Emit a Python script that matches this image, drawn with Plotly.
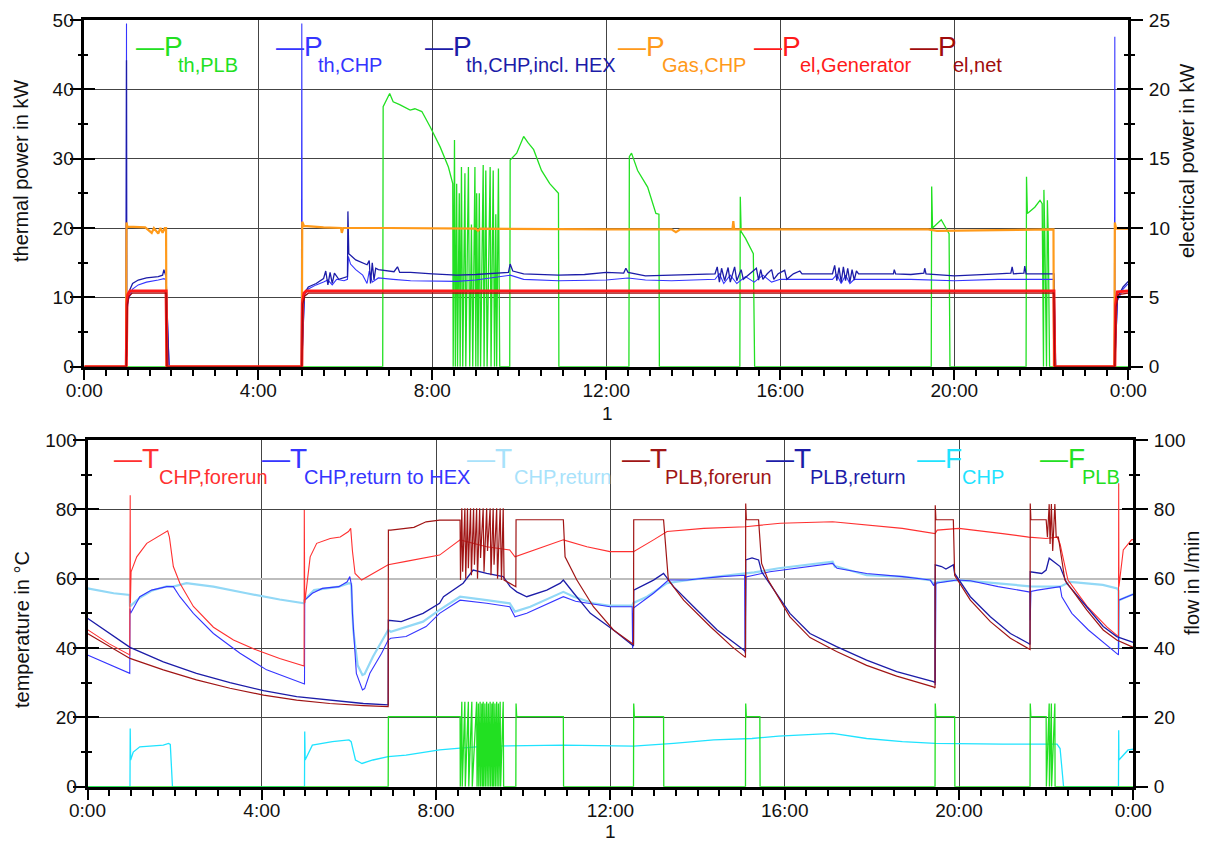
import plotly.graph_objects as go

# ---------------- axis ticks ----------------
HOUR_TICKS = [0, 4, 8, 12, 16, 20, 24]
HOUR_LABELS = ["0:00", "4:00", "8:00", "12:00", "16:00", "20:00", "0:00"]

# ---------------- top panel: power (hours, kW) ----------------
PTH_PLB = [(0, 0), (6.86, 0), (6.87, 37.5), (6.95, 38.5), (7.02, 39.4), (7.1, 38.2), (7.25, 37.8),
           (7.49, 37.0), (7.6, 37.2), (7.76, 36.8), (7.95, 34.6), (8.18, 31.7), (8.37, 28.8), (8.47, 26.4),
           (8.48, 0), (8.51, 32.7), (8.53, 0), (8.56, 26.4), (8.58, 0), (8.62, 25.0), (8.64, 0), (8.67, 28.8),
           (8.70, 0), (8.75, 27.9), (8.77, 0), (8.83, 28.8), (8.86, 0), (8.90, 20.5), (8.93, 0), (8.98, 28.8),
           (9.00, 0), (9.02, 25.0), (9.05, 0), (9.08, 25.0), (9.11, 0), (9.17, 29.1), (9.19, 0), (9.23, 28.3),
           (9.26, 0), (9.33, 28.8), (9.35, 0), (9.40, 28.3), (9.43, 0), (9.46, 22.0), (9.48, 0), (9.52, 28.6),
           (9.55, 0), (9.78, 0), (9.79, 29.8), (9.94, 30.8), (10.02, 32.0), (10.1, 33.2), (10.2, 32.3),
           (10.33, 31.3), (10.51, 28.3), (10.7, 26.4), (10.9, 25.0), (10.91, 0), (12.52, 0), (12.53, 30.3),
           (12.58, 30.8), (12.72, 28.3), (12.95, 25.9), (13.14, 22.1), (13.21, 22.0), (13.22, 0), (15.07, 0),
           (15.08, 24.5), (15.10, 19.5), (15.2, 18.5), (15.38, 16.3), (15.41, 0), (19.47, 0), (19.48, 26.0),
           (19.5, 20.0), (19.7, 21.2), (19.88, 19.2), (19.9, 0), (21.65, 0), (21.66, 27.4), (21.68, 22.1),
           (21.85, 23.0), (21.97, 24.0), (22.02, 23.5), (22.05, 0), (22.06, 25.5), (22.08, 19.0), (22.12, 0),
           (22.14, 24.0), (22.16, 19.0), (22.19, 0), (24, 0)]

PTH_CHP = [(0, 0), (0.96, 0), (0.97, 49.5), (0.975, 1.0), (0.99, 8.5), (1.02, 9.8), (1.11, 11.2),
           (1.24, 11.8), (1.43, 12.2), (1.70, 12.5), (1.83, 12.7), (1.88, 12.5), (1.92, 4.0), (1.95, 0),
           (4.99, 0), (5.0, 49.5), (5.01, 2.0), (5.06, 10.3), (5.15, 11.2), (5.33, 11.8), (5.5, 12.2),
           (5.6, 12.5), (5.7, 11.8), (5.8, 12.6), (5.97, 12.4), (6.05, 12.6), (6.07, 15.9), (6.12, 14.8),
           (6.24, 14.0), (6.4, 13.2), (6.5, 12.0), (6.55, 13.8), (6.62, 12.2), (6.76, 12.8), (7.1, 12.6),
           (7.5, 12.4), (8.56, 12.3), (9.0, 12.5), (9.79, 13.2), (10.1, 12.6), (10.9, 12.4), (11.5, 12.4),
           (12.0, 12.5), (12.5, 12.8), (12.9, 12.5), (13.5, 12.4), (14.5, 12.6), (14.6, 13.4), (14.7, 12.0),
           (14.85, 13.2), (15.0, 12.0), (15.2, 13.0), (15.4, 12.2), (15.6, 13.2), (15.8, 12.2), (16.0, 12.6),
           (17.2, 12.6), (17.3, 13.3), (17.4, 12.0), (17.5, 13.2), (17.6, 12.0), (17.7, 12.6), (19.0, 12.6),
           (20.0, 12.4), (21.0, 12.6), (22.29, 12.6), (22.33, 0), (23.68, 0), (23.69, 47.6), (23.695, 1.0),
           (23.75, 9.5), (23.88, 11.2), (23.97, 11.8), (24, 11.9)]

PTH_CHP_HEX = [(0, 0), (0.96, 0), (0.97, 44.2), (0.975, 1.5), (0.99, 9.6), (1.04, 11.0), (1.11, 12.0),
               (1.24, 12.5), (1.43, 12.8), (1.70, 13.0), (1.80, 13.2), (1.83, 14.0), (1.86, 13.1), (1.88, 13.0),
               (1.92, 5.0), (1.95, 0), (5.0, 0), (5.02, 3.0), (5.06, 10.6), (5.15, 11.5), (5.33, 12.0),
               (5.5, 12.7), (5.55, 13.8), (5.6, 11.8), (5.65, 13.6), (5.7, 12.0), (5.75, 13.5), (5.85, 12.6),
               (5.97, 12.8), (6.05, 13.0), (6.06, 22.4), (6.08, 16.3), (6.24, 15.4), (6.4, 14.9), (6.5, 14.7),
               (6.55, 15.3), (6.58, 12.0), (6.62, 15.0), (6.66, 12.5), (6.7, 14.2), (6.76, 14.0), (7.12, 13.7),
               (7.2, 14.4), (7.25, 13.6), (7.5, 13.6), (8.0, 13.4), (8.56, 13.2), (9.0, 13.3), (9.75, 13.6),
               (9.79, 14.8), (9.85, 13.8), (10.1, 13.4), (10.9, 13.2), (11.5, 13.3), (12.0, 13.6), (12.4, 13.5),
               (12.45, 14.2), (12.5, 13.6), (12.9, 13.1), (13.5, 13.2), (14.0, 13.3), (14.5, 13.4), (14.55, 14.4),
               (14.6, 12.2), (14.65, 14.2), (14.72, 12.4), (14.8, 14.3), (14.85, 12.2), (14.95, 14.4), (15.0, 12.4),
               (15.1, 14.0), (15.15, 12.6), (15.3, 13.4), (15.45, 14.2), (15.5, 12.5), (15.55, 14.0), (15.6, 12.6),
               (15.7, 13.4), (15.8, 14.0), (15.85, 12.6), (15.95, 13.4), (16.1, 13.9), (16.15, 12.6), (16.3, 13.4),
               (16.45, 13.8), (16.5, 13.4), (17.2, 13.4), (17.25, 14.6), (17.3, 12.4), (17.35, 14.3), (17.4, 12.2),
               (17.45, 14.4), (17.5, 12.4), (17.55, 14.2), (17.6, 12.2), (17.65, 14.0), (17.7, 12.5), (17.75, 13.8),
               (17.8, 13.4), (18.6, 13.4), (18.62, 14.0), (18.65, 13.4), (19.0, 13.3), (19.3, 13.5), (19.32, 14.2),
               (19.35, 13.4), (20.0, 13.1), (20.5, 13.3), (21.0, 13.4), (21.3, 13.5), (21.33, 14.4), (21.36, 13.4),
               (21.6, 13.5), (21.62, 14.5), (21.65, 13.4), (22.29, 13.4), (22.33, 0), (23.69, 0), (23.75, 10.0),
               (23.88, 11.5), (23.97, 12.2), (24, 12.3)]

PGAS_CHP = [(0, 0), (0.96, 0), (0.97, 20.8), (0.99, 20.2), (1.4, 20.1), (1.55, 19.3), (1.6, 20.0), (1.7, 19.2),
            (1.75, 20.0), (1.8, 19.3), (1.85, 20.0), (1.88, 20.0), (1.89, 0), (5.0, 0), (5.01, 20.9), (5.05, 20.3),
            (5.5, 20.1), (5.9, 20.0), (5.92, 19.3), (5.95, 20.0), (7.0, 20.0), (9.0, 19.9), (9.05, 19.6),
            (9.1, 19.9), (12.0, 19.8), (13.5, 19.8), (13.6, 19.4), (13.7, 19.8), (14.9, 19.8), (14.92, 21.0),
            (14.94, 19.8), (19.4, 19.8), (19.6, 19.6), (22.28, 19.8), (22.29, 0), (23.68, 0), (23.69, 20.8),
            (23.72, 19.9), (24, 19.9)]

# electrical power, right axis (kW)
PEL_GEN = [(0, 0), (0.965, 0), (0.98, 4.5), (1.0, 5.2), (1.05, 5.45), (1.88, 5.45), (1.90, 0), (5.0, 0),
           (5.015, 4.6), (5.05, 5.3), (5.1, 5.45), (22.29, 5.45), (22.31, 0), (23.69, 0), (23.71, 4.5),
           (23.75, 5.4), (24, 5.45)]
PEL_NET = [(0, 0), (0.965, 0), (0.99, 4.5), (1.03, 5.1), (1.1, 5.3), (1.88, 5.3), (1.9, 0), (5.0, 0),
           (5.02, 4.5), (5.07, 5.1), (5.15, 5.3), (22.29, 5.3), (22.31, 0), (23.69, 0), (23.72, 4.3),
           (23.77, 5.2), (24, 5.3)]

# ---------------- bottom panel: temperatures (hours, degC) ----------------
T_CHP_FORERUN = [(0, 45.3), (0.5, 41.2), (0.97, 38.0), (0.98, 84.1), (0.985, 53.0), (1.0, 62.0), (1.13, 66.3),
                 (1.36, 70.2), (1.67, 72.5), (1.84, 73.8), (1.88, 72.0), (1.97, 63.5), (2.12, 58.7), (2.43, 52.0),
                 (2.89, 46.0), (3.35, 42.3), (3.88, 39.4), (4.41, 37.0), (4.97, 34.8), (4.975, 79.8), (4.985, 53.0),
                 (5.11, 66.3), (5.26, 70.2), (5.57, 71.6), (5.8, 72.0), (5.99, 73.6), (6.04, 74.5), (6.08, 68.0),
                 (6.14, 61.5), (6.29, 59.6), (6.48, 61.0), (6.71, 62.5), (6.9, 64.0), (7.31, 65.0), (8.08, 66.8),
                 (8.55, 71.2), (9.16, 69.2), (9.69, 68.3), (9.81, 66.3), (10.92, 71.2), (11.46, 69.2),
                 (11.99, 67.8), (12.53, 67.8), (12.99, 71.2), (13.3, 73.6), (14.14, 74.5), (15.1, 75.0),
                 (15.9, 76.0), (17.1, 76.4), (18.7, 74.5), (19.45, 73.0), (19.5, 74.0), (20.0, 74.5), (21.0, 73.0),
                 (21.6, 72.0), (22.0, 71.6), (22.25, 72.0), (22.32, 70.0), (22.5, 59.6), (22.94, 52.0),
                 (23.4, 46.0), (23.66, 43.3), (23.665, 87.5), (23.67, 57.7), (23.77, 68.3), (23.96, 71.2),
                 (24, 71.3)]

T_CHP_RETURN_HEX = [(0, 38.0), (0.5, 35.2), (0.97, 32.7), (0.975, 51.4), (0.99, 50.0), (1.2, 54.8), (1.47, 56.7),
                    (1.82, 57.7), (1.97, 57.7), (2.12, 54.8), (2.43, 50.0), (2.89, 44.2), (3.5, 38.5), (4.11, 33.7),
                    (4.72, 30.8), (4.98, 29.6), (4.985, 53.8), (5.16, 55.8), (5.39, 57.2), (5.77, 57.7),
                    (5.96, 59.1), (6.02, 60.6), (6.06, 58.0), (6.08, 50.0), (6.12, 42.3), (6.17, 32.7),
                    (6.31, 27.9), (6.36, 28.3), (6.48, 32.7), (6.75, 38.5), (6.9, 42.3), (6.96, 42.8), (7.31, 43.3),
                    (7.77, 46.2), (8.08, 50.0), (8.55, 53.8), (9.16, 52.9), (9.69, 51.9), (9.81, 49.0),
                    (10.08, 50.0), (10.92, 54.8), (11.2, 53.5), (11.99, 51.9), (12.5, 51.9), (12.51, 39.9),
                    (12.53, 51.5), (12.99, 55.8), (13.33, 59.6), (13.76, 59.6), (14.53, 60.6), (15.08, 61.0),
                    (15.09, 38.5), (15.11, 60.5), (15.66, 62.0), (17.1, 64.4), (17.2, 63.0), (17.88, 61.5),
                    (18.7, 60.6), (19.34, 59.6), (19.42, 58.0), (19.45, 59.0), (19.455, 29.3), (19.47, 58.7),
                    (19.95, 59.6), (20.26, 59.4), (20.9, 57.7), (21.6, 56.2), (21.63, 56.2), (21.635, 48.0),
                    (21.65, 56.3), (21.8, 56.7), (22.32, 57.7), (22.36, 54.8), (22.59, 50.0), (22.97, 45.2),
                    (23.43, 40.4), (23.66, 38.0), (23.665, 53.8), (23.95, 55.3), (24, 55.5)]

T_CHP_RETURN = [(0, 57.2), (0.6, 55.8), (0.97, 55.3), (0.975, 52.0), (1.2, 54.5), (1.47, 56.5), (1.82, 57.8),
                (1.97, 57.7), (2.27, 58.7), (2.89, 57.7), (3.65, 55.8), (4.41, 54.0), (4.97, 52.9), (4.975, 53.8),
                (5.2, 56.7), (5.77, 57.7), (6.0, 58.7), (6.05, 58.5), (6.1, 45.0), (6.2, 35.0), (6.31, 32.2),
                (6.36, 32.5), (6.55, 37.5), (6.86, 44.2), (6.9, 45.2), (6.96, 44.7), (7.7, 47.6), (8.08, 51.0),
                (8.55, 54.8), (9.16, 53.8), (9.69, 52.9), (9.81, 50.5), (10.16, 51.9), (10.92, 56.2),
                (11.16, 54.8), (11.61, 52.9), (11.99, 52.2), (12.5, 52.2), (12.53, 53.0), (12.84, 54.8),
                (13.3, 58.7), (13.76, 59.6), (14.53, 60.6), (15.1, 61.5), (15.3, 61.8), (15.86, 63.0),
                (17.1, 64.9), (17.15, 63.5), (17.2, 63.5), (17.88, 61.0), (18.7, 60.6), (19.34, 59.6),
                (19.45, 58.2), (19.5, 59.0), (19.95, 59.6), (20.5, 59.1), (21.63, 57.8), (22.32, 57.7),
                (22.55, 59.1), (23.3, 58.2), (23.63, 57.2), (23.66, 56.5), (23.665, 40.0), (23.67, 53.8),
                (23.95, 55.3), (24, 55.5)]

T_PLB_FORERUN = [(0, 44.2), (0.975, 37.0), (1.74, 33.7), (2.5, 30.8), (3.27, 28.4), (4.04, 26.4), (4.8, 25.0),
                 (5.56, 24.0), (6.33, 23.4), (6.9, 23.1), (6.905, 74.0), (6.96, 74.0), (7.49, 74.8), (7.77, 76.4),
                 (8.08, 76.9), (8.55, 76.9), (8.56, 59.6), (8.59, 80.3), (8.61, 62.0), (8.66, 80.3), (8.68, 60.0),
                 (8.72, 80.3), (8.74, 63.0), (8.79, 80.3), (8.81, 61.0), (8.86, 80.3), (8.88, 64.0), (8.93, 80.3),
                 (8.95, 60.0), (9.00, 80.3), (9.02, 66.0), (9.08, 80.3), (9.10, 62.0), (9.16, 80.3), (9.18, 68.0),
                 (9.24, 80.3), (9.26, 61.0), (9.31, 80.3), (9.33, 64.0), (9.39, 80.3), (9.41, 60.0), (9.47, 80.3),
                 (9.50, 59.6), (9.54, 80.3), (9.56, 59.6), (9.7, 58.5), (9.81, 57.7), (9.83, 57.7), (9.835, 77.0),
                 (10.92, 77.0), (10.96, 66.3), (11.23, 59.6), (11.61, 51.9), (12.07, 45.2), (12.5, 41.3),
                 (12.53, 41.0), (12.535, 77.0), (13.22, 77.0), (13.33, 59.6), (13.68, 53.8), (14.29, 46.2),
                 (14.79, 40.4), (15.1, 37.3), (15.105, 81.7), (15.12, 77.0), (15.4, 77.0), (15.47, 64.4),
                 (15.62, 59.6), (16.12, 49.0), (16.58, 43.0), (17.19, 39.0), (17.88, 35.0), (18.57, 31.9),
                 (19.41, 28.8), (19.45, 28.5), (19.455, 81.2), (19.47, 77.0), (19.87, 77.0), (19.9, 61.0),
                 (20.26, 53.8), (20.72, 47.6), (21.18, 42.8), (21.6, 39.9), (21.63, 39.6), (21.635, 81.7),
                 (21.65, 77.0), (22.0, 77.0), (22.03, 72.0), (22.07, 81.5), (22.09, 70.0), (22.12, 81.5),
                 (22.15, 68.0), (22.2, 81.5), (22.23, 72.0), (22.28, 72.0), (22.43, 59.6), (22.93, 51.0),
                 (23.31, 45.2), (23.62, 42.3), (23.96, 40.4), (24, 40.2)]

T_PLB_RETURN = [(0, 48.6), (0.975, 40.2), (1.74, 36.0), (2.5, 32.7), (3.27, 30.0), (4.04, 27.7), (4.8, 26.0),
                (5.56, 25.0), (6.33, 24.0), (6.9, 23.6), (6.905, 48.0), (7.2, 47.6), (7.7, 50.0), (8.08, 52.9),
                (8.17, 54.8), (8.62, 58.7), (8.85, 62.5), (9.16, 61.5), (9.54, 60.6), (9.7, 57.7), (9.85, 56.2),
                (10.08, 54.8), (10.54, 56.7), (10.85, 58.7), (10.92, 59.6), (11.16, 55.8), (11.54, 50.0),
                (12.07, 45.2), (12.5, 40.9), (12.53, 40.6), (12.535, 56.7), (12.99, 59.6), (13.22, 61.5),
                (13.45, 57.7), (13.91, 51.9), (14.45, 45.2), (15.06, 39.4), (15.1, 39.0), (15.105, 65.4),
                (15.25, 66.0), (15.4, 65.4), (15.47, 62.0), (15.66, 58.5), (16.12, 50.0), (16.58, 44.2),
                (17.19, 40.4), (17.88, 36.5), (18.57, 33.2), (19.41, 30.3), (19.45, 30.0), (19.455, 64.0),
                (19.6, 63.5), (19.7, 62.8), (19.87, 64.0), (19.9, 61.5), (20.26, 54.8), (20.72, 49.0),
                (21.18, 44.2), (21.6, 41.3), (21.63, 41.0), (21.635, 62.0), (21.9, 61.5), (22.0, 62.5),
                (22.07, 65.9), (22.32, 63.5), (22.47, 58.7), (22.93, 51.9), (23.31, 46.2), (23.62, 43.3),
                (23.96, 41.8), (24, 41.6)]

# flows, right axis (l/min)
F_CHP = [(0, 0), (0.975, 0), (0.98, 16.8), (0.99, 7.7), (1.05, 10.0), (1.2, 11.5), (1.74, 12.0), (1.86, 12.5),
         (1.9, 12.2), (1.95, 0), (4.98, 0), (4.985, 15.9), (4.995, 7.7), (5.16, 12.0), (5.62, 13.0), (6.0, 13.5),
         (6.05, 13.0), (6.15, 7.7), (6.3, 6.7), (6.55, 7.7), (6.9, 8.7), (7.31, 9.1), (8.08, 10.6), (8.55, 11.1),
         (9.16, 11.7), (10.92, 12.0), (12.53, 11.7), (13.45, 12.5), (14.37, 13.5), (15.25, 13.9), (15.86, 14.6),
         (17.1, 15.4), (17.88, 13.9), (18.7, 13.0), (19.45, 12.5), (21.0, 12.3), (22.25, 12.3), (22.32, 11.0),
         (22.4, 0), (23.66, 0), (23.665, 16.3), (23.67, 7.7), (23.88, 10.6), (24, 10.8)]

F_PLB = [(0, 0), (6.9, 0), (6.905, 20.2), (8.55, 20.2), (8.555, 0), (8.59, 24.5), (8.6, 0), (8.66, 24.5), (8.67, 0),
         (8.74, 24.5), (8.75, 0), (8.82, 24.5), (8.83, 0), (8.93, 24.5), (8.94, 0), (8.97, 24.0), (8.98, 0),
         (9.01, 24.5), (9.02, 0), (9.05, 24.0), (9.06, 0), (9.08, 24.5), (9.09, 0), (9.12, 24.0), (9.13, 0),
         (9.16, 24.5), (9.17, 0), (9.2, 24.0), (9.21, 0), (9.24, 24.5), (9.25, 0), (9.28, 24.0), (9.29, 0),
         (9.31, 24.5), (9.32, 0), (9.35, 24.0), (9.36, 0), (9.39, 24.5), (9.4, 0), (9.43, 24.0), (9.44, 0),
         (9.47, 24.5), (9.48, 0), (9.54, 24.5), (9.55, 0), (9.83, 0), (9.835, 24.0), (9.85, 20.2), (10.92, 20.2),
         (10.925, 0), (12.53, 0), (12.535, 24.0), (12.55, 20.2), (13.22, 20.2), (13.225, 0), (15.1, 0),
         (15.105, 24.0), (15.12, 20.2), (15.43, 20.2), (15.435, 0), (19.45, 0), (19.455, 24.0), (19.47, 20.2),
         (19.9, 20.2), (19.905, 0), (21.63, 0), (21.635, 24.0), (21.65, 20.2), (22.0, 20.2), (22.005, 0),
         (22.07, 24.0), (22.075, 0), (22.12, 24.0), (22.125, 0), (22.2, 24.0), (22.205, 0), (24, 0)]

# ---------------- styling ----------------
FONT = "Liberation Sans, Arial, Helvetica, sans-serif"
GREEN = "#22e022"
BLUE = "#3535ff"
DBLUE = "#1c1ca8"
ORANGE = "#ff9a1a"
RED = "#ff1a1a"
DRED = "#a00c0c"
LBLUE = "#92d8f6"
CYAN = "#1fe3ff"
OFF = 8                 # page body margin of the html page
W, H = 1200, 836        # figure size so that figure + margin fill the 1208x844 window


def px(x):              # screenshot pixel -> paper fraction
    return (x - OFF) / W


def py(y):
    return 1 - (y - OFF) / H


TOP_XDOM = [px(84.3), px(1128.3)]
BOT_XDOM = [px(87.5), px(1133.3)]
TOP_YDOM = [py(366.7), py(20)]
BOT_YDOM = [py(786.7), py(440)]

fig = go.Figure()


def add(series, color, width, xa, ya):
    xs = [p[0] for p in series]
    ys = [p[1] for p in series]
    fig.add_trace(go.Scatter(x=xs, y=ys, mode="lines", line=dict(color=color, width=width),
                             xaxis=xa, yaxis=ya, showlegend=False, hoverinfo="skip"))


# top panel
add(PTH_PLB, GREEN, 1.3, "x", "y")
add(PTH_CHP, BLUE, 1.1, "x", "y")
add(PTH_CHP_HEX, DBLUE, 1.3, "x", "y")
add(PGAS_CHP, ORANGE, 2.2, "x", "y")
add(PEL_GEN, RED, 3.0, "x", "y2")
add(PEL_NET, DRED, 1.2, "x", "y2")
# bottom panel
add(T_CHP_RETURN, LBLUE, 2.2, "x2", "y5")
add(T_CHP_RETURN_HEX, BLUE, 1.1, "x2", "y5")
add(T_CHP_FORERUN, "#ff3030", 1.1, "x2", "y5")
add(T_PLB_RETURN, DBLUE, 1.3, "x2", "y5")
add(T_PLB_FORERUN, "#a01515", 1.2, "x2", "y5")
add(F_CHP, CYAN, 1.3, "x2", "y6")
add(F_PLB, GREEN, 1.3, "x2", "y6")

# empty traces so that overlay tick axes are drawn
for xa, ya in [("x", "y3"), ("x", "y4"), ("x2", "y7"), ("x2", "y8"), ("x2", "y9"), ("x2", "y10")]:
    fig.add_trace(go.Scatter(x=[None], y=[None], xaxis=xa, yaxis=ya, showlegend=False, hoverinfo="skip"))

tickfont = dict(family=FONT, size=19, color="#111111")
GRID = "#444444"


def xaxis(domain, anchor):
    return dict(domain=domain, anchor=anchor, range=[0, 24], tickmode="array", tickvals=HOUR_TICKS,
                ticktext=HOUR_LABELS, ticks="outside", ticklen=11, tickwidth=2, tickcolor="black",
                minor=dict(tickmode="linear", tick0=0, dtick=0.5, ticks="outside", ticklen=7, tickwidth=2,
                           tickcolor="black", showgrid=False),
                showgrid=True, gridcolor=GRID, gridwidth=1, showline=True, linewidth=2.5, linecolor="black",
                mirror=True, zeroline=False, tickfont=tickfont, automargin=False, ticklabelstandoff=-6)


def yaxis(domain, anchor, rng, dtick, mdtick, side="left", grid=True, overlay=None, line=True):
    d = dict(anchor=anchor, range=rng, tickmode="linear", tick0=0, dtick=dtick, side=side,
             ticks="outside", ticklen=12, tickwidth=2, tickcolor="black",
             minor=dict(tickmode="linear", tick0=0, dtick=mdtick, ticks="outside", ticklen=4, tickwidth=2,
                        tickcolor="black", showgrid=False),
             showgrid=grid, gridcolor=GRID, gridwidth=1, showline=line, linewidth=2.5, linecolor="black",
             zeroline=False, tickfont=tickfont, automargin=False,
             ticklabelstandoff=(-8 if side == "left" else 2))
    if overlay:
        d["overlaying"] = overlay
    else:
        d["domain"] = domain
    return d


def inner(anchor, rng, dtick, mdtick, side, overlay):
    return dict(anchor=anchor, overlaying=overlay, side=side, range=rng, tickmode="linear", tick0=0,
                dtick=dtick, ticks="inside", ticklen=11, tickwidth=2, tickcolor="black",
                minor=dict(tickmode="linear", tick0=0, dtick=mdtick, ticks="inside", ticklen=4, tickwidth=2,
                           tickcolor="black", showgrid=False),
                showticklabels=False, showgrid=False, showline=False, zeroline=False, automargin=False)


def gridonly(anchor, vals, color, width, overlay):
    return dict(anchor=anchor, overlaying=overlay, range=[0, 100], tickmode="array", tickvals=vals,
                ticks="", showticklabels=False, showgrid=True, gridcolor=color, gridwidth=width,
                showline=False, zeroline=False, automargin=False)


layout = dict(
    width=W, height=H, margin=dict(l=0, r=0, t=0, b=0, pad=0, autoexpand=False),
    paper_bgcolor="white", plot_bgcolor="white",
    showlegend=False,
    xaxis=xaxis(TOP_XDOM, "y"),
    xaxis2=xaxis(BOT_XDOM, "y5"),
    yaxis=yaxis(TOP_YDOM, "x", [0, 50], 10, 5),
    yaxis2=yaxis(None, "x", [0, 25], 5, 2.5, side="right", grid=False, overlay="y"),
    yaxis3=inner("x", [0, 50], 10, 5, "left", "y"),
    yaxis4=inner("x", [0, 25], 5, 2.5, "right", "y"),
    yaxis5=yaxis(BOT_YDOM, "x2", [0, 100], 20, 10, grid=False),
    yaxis6=yaxis(None, "x2", [0, 100], 20, 10, side="right", grid=False, overlay="y5"),
    yaxis7=inner("x2", [0, 100], 20, 10, "left", "y5"),
    yaxis8=inner("x2", [0, 100], 20, 10, "right", "y5"),
    yaxis9=gridonly("x2", [20, 40, 80], GRID, 1, "y5"),
    yaxis10=gridonly("x2", [60], "#bdbdbd", 2, "y5"),
)
fig.update_layout(**layout)

annotations = []

# axis titles
TITLES = [("thermal power in kW", 21, 171), ("electrical power in kW", 1187, 161),
          ("temperature in °C", 22, 630), ("flow in l/min", 1192, 583)]
for text, x, y in TITLES:
    annotations.append(dict(text=text, x=px(x), y=py(y), xref="paper", yref="paper", textangle=-90,
                            showarrow=False, xanchor="center", yanchor="middle",
                            font=dict(family=FONT, size=20, color="#111111")))
for x, y in [(607, 413), (611, 831)]:
    annotations.append(dict(text="1", x=px(x), y=py(y), xref="paper", yref="paper", showarrow=False,
                            xanchor="center", yanchor="middle", font=dict(family=FONT, size=19, color="#111111")))

# legend entries: (main letter, subscript, colour, x of sample line, x of subscript)
TOP_LEGEND = [("P", "th,PLB", GREEN, 134, 176), ("P", "th,CHP", BLUE, 274, 316),
              ("P", "th,CHP,incl. HEX", DBLUE, 423, 464), ("P", "Gas,CHP", ORANGE, 616, 660),
              ("P", "el,Generator", RED, 752, 798), ("P", "el,net", DRED, 908, 951)]
BOT_LEGEND = [("T", "CHP,forerun", "#ff3030", 112, 157), ("T", "CHP,return to HEX", BLUE, 260, 302),
              ("T", "CHP,return", "#a8e2fb", 465, 512), ("T", "PLB,forerun", "#a01515", 620, 663),
              ("T", "PLB,return", DBLUE, 764, 808), ("F", "CHP", CYAN, 915, 960), ("F", "PLB", GREEN, 1038, 1080)]
MAIN_SIZE, SUB_SIZE = 28, 20


def legend(entries, base_main, base_sub):
    for letter, sub, color, x0, xs in entries:
        annotations.append(dict(text="—" + letter, x=px(x0), y=py(base_main - 0.35 * MAIN_SIZE),
                                xref="paper", yref="paper", showarrow=False, xanchor="left", yanchor="middle",
                                font=dict(family=FONT, size=MAIN_SIZE, color=color)))
        annotations.append(dict(text=sub, x=px(xs), y=py(base_sub - 0.35 * SUB_SIZE),
                                xref="paper", yref="paper", showarrow=False, xanchor="left", yanchor="middle",
                                font=dict(family=FONT, size=SUB_SIZE, color=color)))


legend(TOP_LEGEND, 56, 71.5)
legend(BOT_LEGEND, 468, 484)
fig.update_layout(annotations=annotations)

fig.write_html("out.html")
